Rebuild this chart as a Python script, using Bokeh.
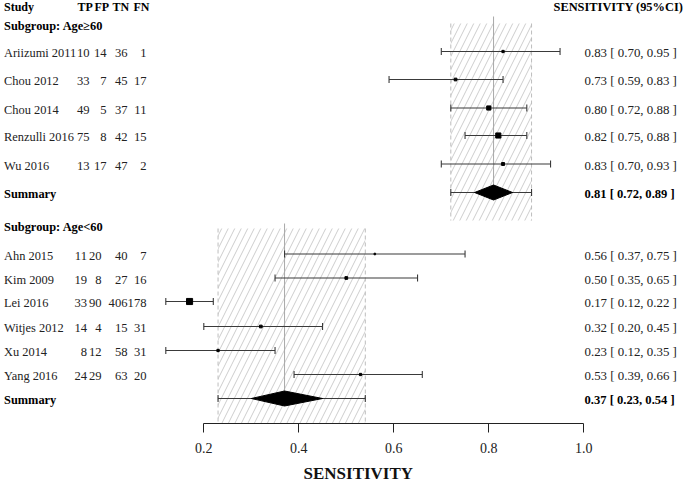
from bokeh.plotting import figure
from bokeh.models import Range1d, FixedTicker, Title, PrintfTickFormatter
from bokeh.core.properties import value
from bokeh.embed import file_html
from bokeh.resources import INLINE
import math

# ---------------- data ----------------
header_cols = ["TP", "FP", "TN", "FN"]
ci_header = "SENSITIVITY (95%CI)"
x_title = "SENSITIVITY"

g1_title = "Subgroup: Age\u226560"
g1_studies = ["Ariizumi 2011", "Chou 2012", "Chou 2014", "Renzulli 2016", "Wu 2016"]
g1_tp = [10, 33, 49, 75, 13]
g1_fp = [14, 7, 5, 8, 17]
g1_tn = [36, 45, 37, 42, 47]
g1_fn = [1, 17, 11, 15, 2]
g1_sens = [0.83, 0.73, 0.80, 0.82, 0.83]
g1_lo = [0.70, 0.59, 0.72, 0.75, 0.70]
g1_hi = [0.95, 0.83, 0.88, 0.88, 0.93]
g1_weight = [4, 6, 16, 25, 7]
g1_sum = [0.81, 0.72, 0.89]          # estimate, lower, upper
g1_diamond = [0.77, 0.85]            # diamond extent

g2_title = "Subgroup: Age<60"
g2_studies = ["Ahn 2015", "Kim 2009", "Lei 2016", "Witjes 2012", "Xu 2014", "Yang 2016"]
g2_tp = [11, 19, 33, 14, 8, 24]
g2_fp = [20, 8, 90, 4, 12, 29]
g2_tn = [40, 27, 406, 15, 58, 63]
g2_fn = [7, 16, 178, 31, 31, 20]
g2_sens = [0.56, 0.50, 0.17, 0.32, 0.23, 0.53]
g2_lo = [0.37, 0.35, 0.12, 0.20, 0.12, 0.39]
g2_hi = [0.75, 0.65, 0.22, 0.45, 0.35, 0.66]
g2_weight = [1.5, 6, 36, 6, 4, 4]
g2_sum = [0.37, 0.23, 0.54]
g2_diamond = [0.30, 0.45]

tick_values = [0.2, 0.4, 0.6, 0.8, 1.0]
tick_labels = ["0.2", "0.4", "0.6", "0.8", "1.0"]

# ---------------- layout helpers ----------------
X0_PX, PX_UNIT = 108.3, 475.0
def vx(px):
    return (px - X0_PX) / PX_UNIT

W, H = 685, 490
AXIS_Y = 423

g1_rows = [51, 79, 107.5, 135, 163.5]
g1_sum_y = 192
g2_rows = [253.5, 277.5, 301, 326, 350, 374]
g2_sum_y = 398
header_y = 6.5
sub1_y, sub2_y = 25, 226
TXT_DY = 1.5

FONT = value("Liberation Serif")
FS = "12.6px"
REG = "#222222"
BLK = "#000000"

p = figure(width=W, height=H, output_backend="svg", toolbar_location=None,
           x_range=Range1d(vx(0), vx(W)), y_range=Range1d(AXIS_Y, 0),
           y_axis_location=None, min_border_left=0, min_border_right=0,
           min_border_top=0, min_border_bottom=H - AXIS_Y)
p.xgrid.visible = False
p.ygrid.visible = False
p.outline_line_color = None
p.background_fill_color = "white"
p.border_fill_color = "white"

def txt(xs, ys, texts, align="left", bold=False, color=REG, size=FS):
    p.text(x=xs, y=ys, text=texts, text_font=FONT, text_font_size=size,
           text_align=align, text_baseline="middle",
           text_font_style="bold" if bold else "normal", text_color=color)

# ---------- hatched summary bands ----------
bands = [
    (g1_sum, 23, 220, 16, g1_sum_y),
    (g2_sum, 228, AXIS_Y, 223, g2_sum_y),
]
for summ, top, bot, vtop, vbot in bands:
    p.quad(left=[summ[1]], right=[summ[2]], top=[top], bottom=[bot],
           fill_color=None, line_color=None, hatch_pattern="/",
           hatch_color="#cdcdcd", hatch_scale=13, hatch_weight=1)
    p.segment(x0=[summ[1], summ[2]], y0=[top, top], x1=[summ[1], summ[2]], y1=[bot, bot],
              line_color="#bdbdbd", line_width=1, line_dash="4 3")
    p.segment(x0=[summ[0]], y0=[vtop], x1=[summ[0]], y1=[vbot],
              line_color="#a8a8a8", line_width=1)

# ---------- study rows ----------
CAP = 3.5
LC = "#3a3a3a"
def draw_group(rows, sens, lo, hi, weight, summ, diam, sum_y):
    ys = list(rows) + [sum_y]
    los = list(lo) + [summ[1]]
    his = list(hi) + [summ[2]]
    p.segment(x0=los, y0=ys, x1=his, y1=ys, line_color=LC, line_width=1.1)
    p.segment(x0=los, y0=[y - CAP for y in ys], x1=los, y1=[y + CAP for y in ys],
              line_color=LC, line_width=1.1)
    p.segment(x0=his, y0=[y - CAP for y in ys], x1=his, y1=[y + CAP for y in ys],
              line_color=LC, line_width=1.1)
    sizes = [0.95 * math.sqrt(w) + 0.4 for w in weight]
    p.scatter(x=sens, y=rows, size=sizes, marker="square", color="black")
    p.patches(xs=[[diam[0], summ[0], diam[1], summ[0]]],
              ys=[[sum_y, sum_y - 7.5, sum_y, sum_y + 7.5]],
              fill_color="black", line_color="black")

draw_group(g1_rows, g1_sens, g1_lo, g1_hi, g1_weight, g1_sum, g1_diamond, g1_sum_y)
draw_group(g2_rows, g2_sens, g2_lo, g2_hi, g2_weight, g2_sum, g2_diamond, g2_sum_y)

# ---------- table text ----------
txt([vx(3.5)], [header_y], ["Study"], bold=True, color=BLK, size="12px")
txt([vx(77), vx(94), vx(112), vx(133)], [header_y] * 4, header_cols, bold=True,
    color=BLK, size="12px")
txt([vx(553)], [header_y], [ci_header], bold=True, color=BLK, size="12.4px")

def table(title, title_y, studies, rows, tp, fp, tn, fn, tp_right, fp_right,
          sens, lo, hi, summ, sum_y):
    txt([vx(3.5)], [title_y], [title], bold=True, color=BLK, size="12.4px")
    ty = [y + TXT_DY for y in rows]
    n = len(rows)
    txt([vx(3.5)] * n, ty, studies, size="12.4px")
    txt([vx(tp_right)] * n, ty, [str(v) for v in tp], align="right")
    txt([vx(fp_right)] * n, ty, [str(v) for v in fp], align="right")
    txt([vx(127)] * n, ty, [str(v) for v in tn], align="right")
    txt([vx(146)] * n, ty, [str(v) for v in fn], align="right")
    ci = ["%.2f [ %.2f, %.2f ]" % (s, l, h) for s, l, h in zip(sens, lo, hi)]
    txt([vx(584)] * n, ty, ci, size="12.9px")
    txt([vx(3.5)], [sum_y + TXT_DY], ["Summary"], bold=True, color=BLK, size="12.4px")
    txt([vx(584)], [sum_y + TXT_DY], ["%.2f [ %.2f, %.2f ]" % tuple(summ)],
        bold=True, color=BLK, size="12.6px")

table(g1_title, sub1_y, g1_studies, g1_rows, g1_tp, g1_fp, g1_tn, g1_fn, 89, 106,
      g1_sens, g1_lo, g1_hi, g1_sum, g1_sum_y)
table(g2_title, sub2_y, g2_studies, g2_rows, g2_tp, g2_fp, g2_tn, g2_fn, 86.5, 101,
      g2_sens, g2_lo, g2_hi, g2_sum, g2_sum_y)

# ---------- axis ----------
ax = p.xaxis[0]
ax.ticker = FixedTicker(ticks=tick_values)
ax.formatter = PrintfTickFormatter(format="%.1f")
ax.major_label_overrides = {v: l for v, l in zip(tick_values, tick_labels)}
ax.bounds = (tick_values[0], tick_values[-1])
ax.minor_tick_line_color = None
ax.major_tick_in = 0
ax.major_tick_out = 9
ax.axis_line_color = "#222222"
ax.major_tick_line_color = "#222222"
ax.major_label_text_font = "Liberation Serif"
ax.major_label_text_font_size = "14px"
ax.major_label_text_color = "#222222"
ax.major_label_standoff = 10

p.add_layout(Title(text=x_title, align="left", offset=303, vertical_align="bottom",
                   text_font="Liberation Serif", text_font_size="17px",
                   text_font_style="bold", text_color="#111111", standoff=12), "below")

open("out.html", "w").write(file_html(p, INLINE))
